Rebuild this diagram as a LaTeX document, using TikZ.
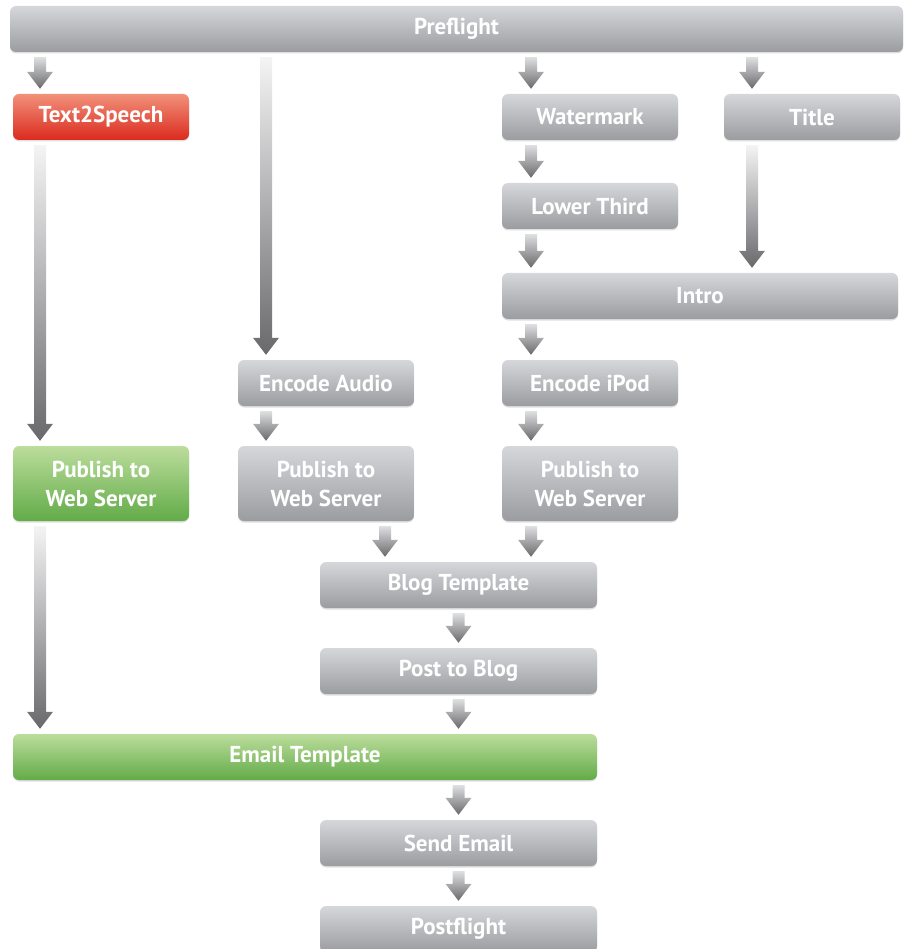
\documentclass[tikz,border=0pt]{standalone}
\usepackage{fontspec}
\setmainfont{PT Sans}
\usetikzlibrary{calc,shadows}

\definecolor{graytop}{HTML}{D6D7DA}
\definecolor{graybot}{HTML}{9B9CA0}
\definecolor{redtop}{HTML}{F2917A}
\definecolor{redbot}{HTML}{DB2A1E}
\definecolor{greentop}{HTML}{BCDD9C}
\definecolor{greenbot}{HTML}{62AB48}
\definecolor{flowtop}{HTML}{F4F4F5}
\definecolor{flowbot}{HTML}{69696C}

\tikzset{
    task/.style={rounded corners=6pt, top color=graytop, bottom color=graybot,
        text=white, font=\fontsize{23}{29}\selectfont\bfseries, align=center,
        inner sep=0pt, minimum width=176pt, minimum height=46pt,
        drop shadow={opacity=0.25, shadow xshift=0pt, shadow yshift=-1.5pt}},
    redtask/.style={task, top color=redtop, bottom color=redbot},
    greentask/.style={task, top color=greentop, bottom color=greenbot},
    flow/.style={top color=flowtop, bottom color=flowbot},
    shortflow/.style={flow, top color=graytop!80!white},
}

% fat arrow: [style]{x}{from node}{to node}
\newcommand{\flowarrow}[4][]{%
    \path[flow, #1] let \p1=(#3.south), \p2=(#4.north) in
        (#2pt-6pt,\y1-5pt) -- (#2pt+6pt,\y1-5pt) -- (#2pt+6pt,\y2+22pt)
        -- (#2pt+13pt,\y2+22pt) -- (#2pt,\y2+5pt) -- (#2pt-13pt,\y2+22pt)
        -- (#2pt-6pt,\y2+22pt) -- cycle;
}

\begin{document}
\begin{tikzpicture}[x=1pt, y=-1pt]
    \useasboundingbox (0,0) rectangle (905,949);

    \node[task, minimum width=893pt] (pre) at (456.5,29) {Preflight};

    \node[redtask] (tts) at (101,117) {Text2Speech};
    \node[task] (wm) at (590,117) {Watermark};
    \node[task] (title) at (812,117) {Title};

    \node[task] (lower) at (590,206) {Lower Third};
    \node[task, minimum width=396pt] (intro) at (700,296) {Intro};

    \node[task] (audio) at (326,383) {Encode Audio};
    \node[task] (ipod) at (590,383) {Encode iPod};

    \node[greentask, minimum height=75pt] (pubtts) at (101,483.5) {Publish to\\Web Server};
    \node[task, minimum height=75pt] (pubaudio) at (326,483.5) {Publish to\\Web Server};
    \node[task, minimum height=75pt] (pubipod) at (590,483.5) {Publish to\\Web Server};

    \node[task, minimum width=277pt] (blog) at (458.5,585) {Blog Template};
    \node[task, minimum width=277pt] (post) at (458.5,671) {Post to Blog};
    \node[greentask, minimum width=584pt] (email) at (305,757) {Email Template};
    \node[task, minimum width=277pt] (send) at (458.5,843) {Send Email};
    \node[task, minimum width=277pt] (postf) at (458.5,929) {Postflight};

    \flowarrow[shortflow]{40}{pre}{tts}
    \flowarrow[shortflow]{531}{pre}{wm}
    \flowarrow[shortflow]{752}{pre}{title}
    \flowarrow{266}{pre}{audio}

    \flowarrow[shortflow]{531}{wm}{lower}
    \flowarrow[shortflow]{531}{lower}{intro}
    \flowarrow{752}{title}{intro}
    \flowarrow[shortflow]{531}{intro}{ipod}

    \flowarrow{40}{tts}{pubtts}
    \flowarrow[shortflow]{266}{audio}{pubaudio}
    \flowarrow[shortflow]{531}{ipod}{pubipod}

    \flowarrow[shortflow]{385}{pubaudio}{blog}
    \flowarrow[shortflow]{531}{pubipod}{blog}
    \flowarrow[shortflow]{458.5}{blog}{post}
    \flowarrow[shortflow]{458.5}{post}{email}
    \flowarrow{40}{pubtts}{email}
    \flowarrow[shortflow]{458.5}{email}{send}
    \flowarrow[shortflow]{458.5}{send}{postf}
\end{tikzpicture}
\end{document}
